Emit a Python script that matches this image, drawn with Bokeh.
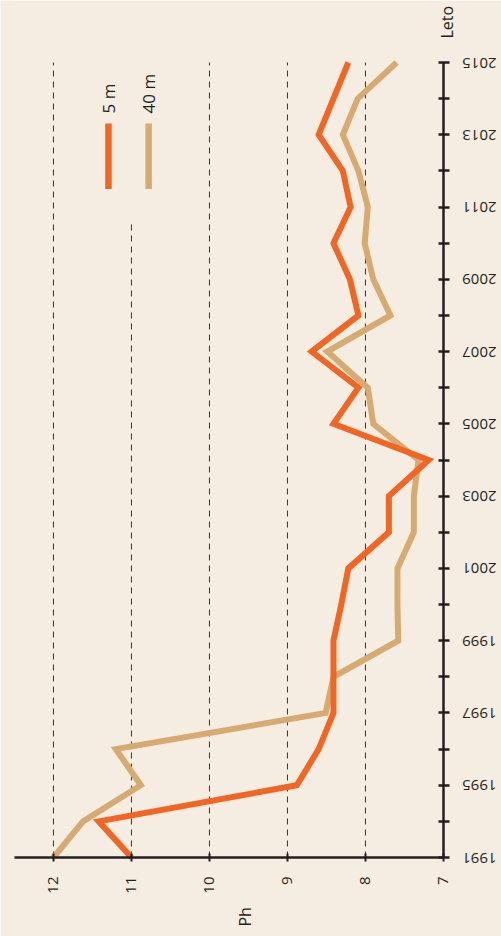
import math
from bokeh.plotting import figure
from bokeh.models import Range1d, FixedTicker, Label, BoxAnnotation, LinearAxis
from bokeh.embed import file_html
from bokeh.resources import INLINE

# ---- data ----
years = list(range(1993, 2016))
ph_5m = [11.0, 11.42, 8.88, 8.6, 8.41, 8.41, 8.41, 8.31, 8.22, 7.7, 7.7, 7.19,
         8.41, 8.09, 8.69, 8.09, 8.2, 8.41, 8.19, 8.29, 8.6, 8.41, 8.22]
ph_40m = [12.0, 11.62, 10.88, 11.2, 8.51, 8.41, 7.58, 7.59, 7.59, 7.38, 7.38, 7.32,
          7.9, 7.97, 8.49, 7.68, 7.9, 8.01, 7.97, 8.09, 8.29, 8.1, 7.6]
series_names = ["5 m", "40 m"]
year_tick_labels = {1993: "1991", 1995: "1995", 1997: "1997", 1999: "1999",
                    2001: "2001", 2003: "2003", 2005: "2005", 2007: "2007",
                    2009: "2009", 2011: "2011", 2013: "2013", 2015: "2015"}
ph_ticks = [12, 11, 10, 9, 8, 7]
ph_grid = [12, 11, 10, 9, 8]
ph_axis_bounds = (12.5, 7)
year_bounds = (1993, 2015)

BG = "#F6EDE2"
ORANGE = "#F26522"
TAN = "#D7AA71"
INK = "#231F20"
FONT = "Open Sans"

p = figure(width=501, height=936,
           x_range=Range1d(12.679, 6.256), y_range=Range1d(1990.814, 2016.716),
           x_axis_location=None, y_axis_location=None,
           min_border=0, min_border_left=0, min_border_right=0,
           min_border_top=0, min_border_bottom=0,
           output_backend="svg", toolbar_location=None,
           background_fill_color=BG, border_fill_color=BG,
           outline_line_color=None)
p.grid.visible = False

# dashed grid lines, limited to the year span
p.segment(x0=ph_grid, y0=[year_bounds[0]] * len(ph_grid),
          x1=ph_grid, y1=[year_bounds[1]] * len(ph_grid),
          line_color="#333333", line_width=1, line_dash="6 5")

# bottom axis (Ph)
xa = LinearAxis(fixed_location=year_bounds[0], bounds=ph_axis_bounds,
                ticker=FixedTicker(ticks=ph_ticks))
xa.major_label_overrides = {t: str(t) for t in ph_ticks}
xa.major_label_orientation = math.pi / 2
xa.axis_line_color = INK
xa.axis_line_width = 2.5
xa.major_tick_line_color = INK
xa.major_tick_line_width = 2
xa.major_tick_in = 4
xa.major_tick_out = 4
xa.minor_tick_line_color = None
xa.major_label_text_font = FONT
xa.major_label_text_font_size = "15px"
xa.major_label_text_color = INK
xa.major_label_standoff = 15
p.add_layout(xa, "below")

# right axis (years) - labels upside down
ya = LinearAxis(fixed_location=7, bounds=year_bounds,
                ticker=FixedTicker(ticks=years))
ya.major_label_overrides = {y: year_tick_labels.get(y, "") for y in years}
ya.major_label_orientation = math.pi
ya.axis_line_color = INK
ya.axis_line_width = 2.5
ya.major_tick_line_color = INK
ya.major_tick_line_width = 2.5
ya.major_tick_in = 5
ya.major_tick_out = 6
ya.minor_tick_line_color = None
ya.major_label_text_font = FONT
ya.major_label_text_font_size = "15px"
ya.major_label_text_color = INK
ya.major_label_standoff = 47
p.add_layout(ya, "right")

# series
p.line(ph_40m, years, line_color=TAN, line_width=6, line_join="miter")
p.line(ph_5m, years, line_color=ORANGE, line_width=6, line_join="miter")

# cover for grid line behind legend
p.add_layout(BoxAnnotation(left=11.12, right=10.88, bottom=2010.55, top=2015.2,
                           fill_color=BG, fill_alpha=1, line_alpha=0))

# legend (rotated)
leg_x = [11.295, 10.78]
leg_cols = [ORANGE, TAN]
p.segment(x0=leg_x, y0=[2011.5, 2011.5], x1=leg_x, y1=[2013.31, 2013.31],
          line_color=leg_cols, line_width=6.5, line_cap="butt")
for lx, name in zip(leg_x, series_names):
    p.add_layout(Label(x=lx, y=2013.59, text=name, angle=math.pi / 2,
                       text_align="left", text_baseline="middle",
                       text_font=FONT, text_font_size="17px", text_color=INK))

# axis titles
p.add_layout(Label(x=7, y=2015, x_offset=4, y_offset=24, text="Leto",
                   angle=math.pi / 2, text_align="left", text_baseline="middle",
                   text_font=FONT, text_font_size="16px", text_color=INK))
p.add_layout(Label(x=9.54, y=1993, y_offset=-69, text="Ph",
                   angle=math.pi / 2, text_align="left", text_baseline="middle",
                   text_font=FONT, text_font_size="16px", text_color=INK))

open("out.html", "w").write(file_html(p, INLINE))
